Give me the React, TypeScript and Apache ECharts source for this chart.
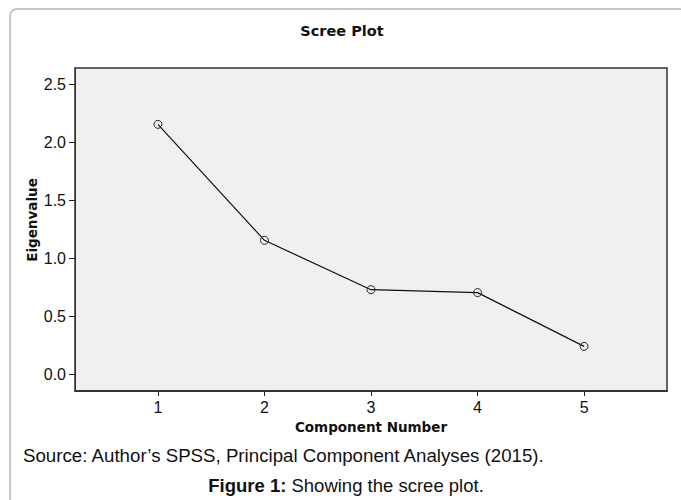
import React, { useEffect, useRef } from "react";
import * as echarts from "echarts";

const components = [1, 2, 3, 4, 5];
const eigenvalues = [2.155, 1.157, 0.732, 0.707, 0.244];
const xTicks = [1, 2, 3, 4, 5];
const yTicks = [0, 0.5, 1.0, 1.5, 2.0, 2.5];

const titleText = "Scree Plot";
const xName = "Component Number";
const yName = "Eigenvalue";
const sourceText = "Source: Author\u2019s SPSS, Principal Component Analyses (2015).";
const captionBold = "Figure 1:";
const captionRest = " Showing the scree plot.";

export default function App() {
  const ref = useRef<HTMLDivElement>(null);
  useEffect(() => {
    if (!ref.current) return;
    const chart = echarts.init(ref.current, null, { renderer: "svg" });
    const boldFont = "'DejaVu Sans', sans-serif";
    const plainFont = "'Liberation Sans', Arial, sans-serif";
    chart.setOption({
      animation: false,
      backgroundColor: "#ffffff",
      grid: {
        left: 75,
        top: 68,
        right: 14,
        bottom: 109,
        show: true,
        backgroundColor: "#f0f0f0",
        borderColor: "#333333",
        borderWidth: 1.5,
      },
      xAxis: {
        type: "value",
        min: 0.222,
        max: 5.778,
        splitLine: { show: false },
        axisLine: { show: true, onZero: false, lineStyle: { color: "#333333", width: 2 } },
        axisTick: {
          show: true,
          customValues: xTicks,
          length: 5,
          lineStyle: { color: "#222222", width: 1 },
        },
        axisLabel: {
          customValues: xTicks,
          margin: 8,
          color: "#111111",
          fontSize: 16,
          fontFamily: plainFont,
        },
      },
      yAxis: {
        type: "value",
        min: -0.14,
        max: 2.64,
        splitLine: { show: false },
        axisLine: { show: true, onZero: false, lineStyle: { color: "#333333", width: 1 } },
        axisTick: {
          show: true,
          customValues: yTicks,
          length: 6,
          lineStyle: { color: "#222222", width: 1 },
        },
        axisLabel: {
          customValues: yTicks,
          margin: 9,
          color: "#111111",
          fontSize: 16,
          fontFamily: plainFont,
          formatter: (v: number) => v.toFixed(1),
        },
      },
      series: [
        {
          type: "line",
          data: components.map((c, i) => [c, eigenvalues[i]]),
          symbol: "circle",
          symbolSize: 8,
          showSymbol: true,
          lineStyle: { color: "#111111", width: 1.2 },
          itemStyle: { color: "rgba(0,0,0,0)", borderColor: "#222222", borderWidth: 1 },
        },
      ],
      graphic: [
        {
          type: "rect",
          shape: { x: 10, y: 9, width: 676, height: 600, r: 7 },
          style: { fill: "none", stroke: "#b4b4b4", lineWidth: 1.5 },
          silent: true,
          z: -1,
        },
        {
          type: "text",
          x: 342,
          y: 31,
          style: {
            text: titleText,
            fontFamily: boldFont,
            fontWeight: "bold",
            fontSize: 14.5,
            fill: "#111111",
            textAlign: "center",
            textVerticalAlign: "middle",
          },
        },
        {
          type: "text",
          x: 371,
          y: 427,
          style: {
            text: xName,
            fontFamily: boldFont,
            fontWeight: "bold",
            fontSize: 13.5,
            fill: "#111111",
            textAlign: "center",
            textVerticalAlign: "middle",
          },
        },
        {
          type: "text",
          x: 32,
          y: 220,
          rotation: Math.PI / 2,
          style: {
            text: yName,
            fontFamily: boldFont,
            fontWeight: "bold",
            fontSize: 13.5,
            fill: "#111111",
            textAlign: "center",
            textVerticalAlign: "middle",
          },
        },
        {
          type: "text",
          x: 23,
          y: 455,
          style: {
            text: sourceText,
            fontFamily: plainFont,
            fontSize: 18.7,
            fill: "#111111",
            textAlign: "left",
            textVerticalAlign: "middle",
          },
        },
        {
          type: "text",
          x: 346,
          y: 485,
          style: {
            text: "{b|" + captionBold + "}" + captionRest,
            fontFamily: plainFont,
            fontSize: 18.5,
            fill: "#111111",
            textAlign: "center",
            textVerticalAlign: "middle",
            rich: {
              b: { fontFamily: plainFont, fontSize: 18.5, fontWeight: "bold", fill: "#111111" },
            },
          },
        },
      ],
    });
    return () => chart.dispose();
  }, []);
  return (
    <div
      ref={ref}
      style={{ position: "absolute", left: 0, top: 0, width: 681, height: 500 }}
    />
  );
}
